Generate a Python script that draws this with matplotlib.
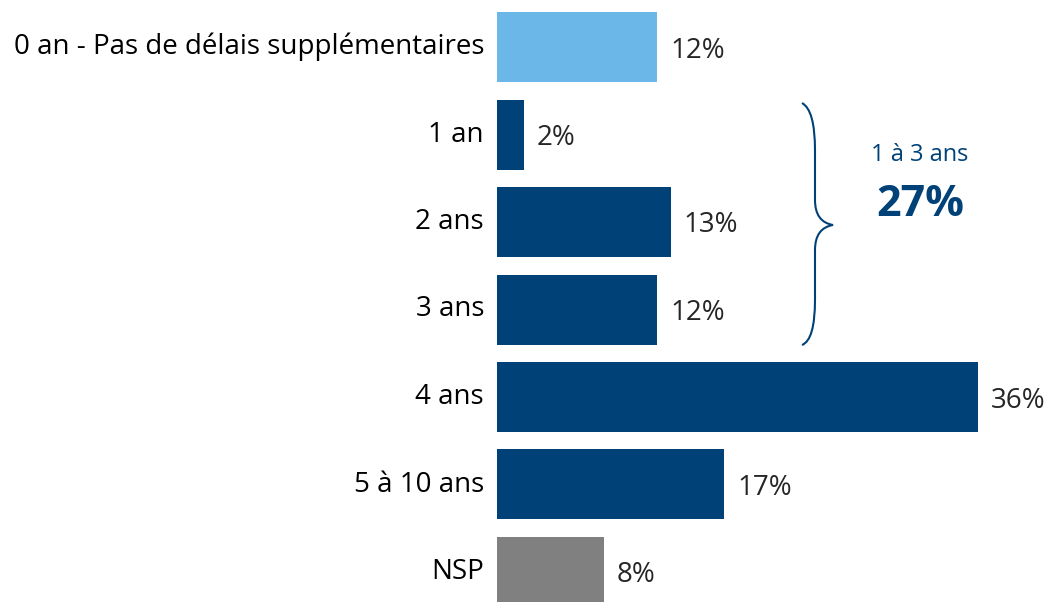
import matplotlib.pyplot as plt
from matplotlib.path import Path
from matplotlib.patches import PathPatch

# Data
categories = ["0 an - Pas de délais supplémentaires", "1 an", "2 ans", "3 ans",
              "4 ans", "5 à 10 ans", "NSP"]
values = [12, 2, 13, 12, 36, 17, 8]
colors = ["#6BB7E8", "#004278", "#004278", "#004278", "#004278", "#004278", "#808080"]
group_label = "1 à 3 ans"
group_value = "27%"

plt.rcParams['font.family'] = ['Open Sans', 'DejaVu Sans']

W, H = 1055, 602
fig = plt.figure(figsize=(W / 100, H / 100), dpi=100)
ax = fig.add_axes([497 / W, 0, 1 - 497 / W, 1])

px_per_unit = 13.36
step = 87.5
ax.set_xlim(0, (W - 497) / px_per_unit)
ax.set_ylim((H - 47) / step, -47 / step)

ypos = list(range(len(categories)))
ax.barh(ypos, values, height=0.8, color=colors)

for y, v in zip(ypos, values):
    ax.text(v + 13 / px_per_unit, y + 0.04, f"{v}%", va="center", ha="left",
            fontsize=20, color="#262626")

for y, c in zip(ypos, categories):
    ax.text(-13 / px_per_unit, y, c, va="center", ha="right",
            fontsize=20, color="#000000", clip_on=False)

# brace next to 1 to 3 years
def px(x, y):
    return ((x - 497) / px_per_unit, (y - 47) / step)

verts = [px(802, 103), px(815, 110), px(815, 150),
         px(815, 200), px(815, 222), px(833, 225),
         px(815, 228), px(815, 250), px(815, 300),
         px(815, 340), px(802, 345)]
codes = [Path.MOVETO, Path.CURVE3, Path.CURVE3,
         Path.LINETO, Path.CURVE3, Path.CURVE3,
         Path.CURVE3, Path.CURVE3,
         Path.LINETO, Path.CURVE3, Path.CURVE3]
ax.add_patch(PathPatch(Path(verts, codes), fill=False, edgecolor="#004278", lw=1.5))

tx, ty = px(920, 155)
ax.text(tx, ty, group_label, ha="center", va="center", fontsize=17, color="#004278")
tx, ty = px(920, 205)
ax.text(tx, ty, group_value, ha="center", va="center", fontsize=31,
        fontweight="bold", color="#004278")

ax.axis("off")
fig.savefig("out.png", dpi=100)
